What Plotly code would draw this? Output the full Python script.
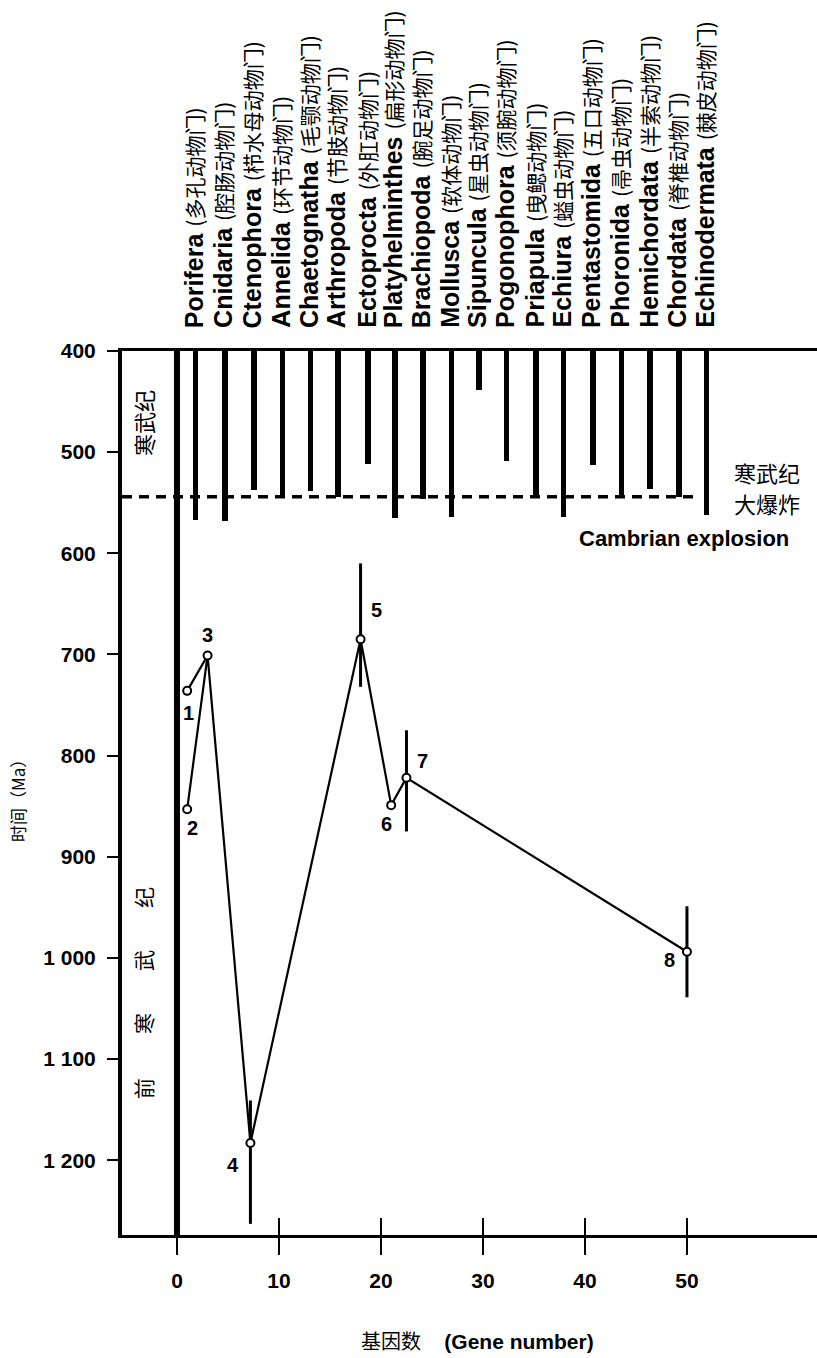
import plotly.graph_objects as go

# ---------------- data ----------------
phyla_en = ["Porifera", "Cnidaria", "Ctenophora", "Annelida", "Chaetognatha", "Arthropoda",
            "Ectoprocta", "Platyhelminthes", "Brachiopoda", "Mollusca", "Sipuncula",
            "Pogonophora", "Priapula", "Echiura", "Pentastomida", "Phoronida",
            "Hemichordata", "Chordata", "Echinodermata"]
phyla_zh = ["多孔动物门", "腔肠动物门", "栉水母动物门", "环节动物门", "毛颚动物门", "节肢动物门",
            "外肛动物门", "扁形动物门", "腕足动物门", "软体动物门", "星虫动物门",
            "须腕动物门", "曳鳃动物门", "螠虫动物门", "五口动物门", "帚虫动物门",
            "半索动物门", "脊椎动物门", "棘皮动物门"]
phyla_x = [1.83, 4.7, 7.55, 10.36, 13.1, 15.8, 18.75, 21.4, 24.1, 26.9, 29.6,
           32.3, 35.2, 37.9, 40.8, 43.6, 46.4, 49.2, 51.9]
phyla_first_ma = [567, 568, 537, 545, 538, 544, 512, 565, 546, 564, 439,
                  509, 544, 564, 513, 544, 536, 544, 562]

point_ids = ["1", "2", "3", "4", "5", "6", "7", "8"]
gene_number = [1, 1, 3, 7.2, 18, 21, 22.5, 50]
age_ma = [736, 853, 701, 1183, 685, 849, 822, 994]
err_older = [0, 0, 0, 80, 47, 0, 53, 45]
err_younger = [0, 0, 0, 42, 75, 0, 47, 45]

cambrian_boundary = 544
time_top = 400
time_bottom = 1274
gene_min, gene_max = -5.39, 62.75
dash_end = 51.0

y_ticks = [400, 500, 600, 700, 800, 900, 1000, 1100, 1200]
y_ticktext = ["400", "500", "600", "700", "800", "900", "1 000", "1 100", "1 200"]
x_ticks = [0, 10, 20, 30, 40, 50]

LAT = "Liberation Sans, Arial, Noto Sans CJK SC, sans-serif"
CJK = "Noto Sans CJK SC, sans-serif"

fig = go.Figure()

# phylum first-appearance bars (hanging from the top)
fig.add_trace(go.Bar(
    x=phyla_x, y=[v - time_top for v in phyla_first_ma], base=time_top,
    width=0.55, marker=dict(color="black", line=dict(width=0)),
    hoverinfo="skip", showlegend=False))

# thick origin line at gene number 0
fig.add_trace(go.Scatter(x=[0, 0], y=[time_top, time_bottom], mode="lines",
                         line=dict(color="black", width=6), hoverinfo="skip",
                         showlegend=False))

# Cambrian explosion dashed line
fig.add_trace(go.Scatter(x=[gene_min, dash_end], y=[cambrian_boundary, cambrian_boundary],
                         mode="lines", line=dict(color="black", width=3.5, dash="10px,7px"),
                         hoverinfo="skip", showlegend=False))

# connector lines: 1-3 and 2-3-4-5-6-7-8
line_x = [gene_number[0], gene_number[2], None, gene_number[1], gene_number[2]] + gene_number[3:]
line_y = [age_ma[0], age_ma[2], None, age_ma[1], age_ma[2]] + age_ma[3:]
fig.add_trace(go.Scatter(x=line_x, y=line_y, mode="lines",
                         line=dict(color="black", width=2.2), hoverinfo="skip",
                         showlegend=False))

# points with error bars
fig.add_trace(go.Scatter(
    x=gene_number, y=age_ma, mode="markers",
    marker=dict(symbol="circle", size=8, color="white", line=dict(color="black", width=2)),
    error_y=dict(type="data", symmetric=False, array=err_older, arrayminus=err_younger,
                 color="black", thickness=3, width=0),
    hoverinfo="skip", showlegend=False))

# invisible trace for the inside-tick axis
fig.add_trace(go.Scatter(x=[gene_min], y=[time_top], xaxis="x2", mode="markers",
                         marker=dict(opacity=0), hoverinfo="skip", showlegend=False))

annotations = []
# phylum labels
for xv, en, zh in zip(phyla_x, phyla_en, phyla_zh):
    annotations.append(dict(
        x=xv, y=1, xref="x", yref="paper", xanchor="center", yanchor="bottom",
        xshift=-2, yshift=21, textangle=-90, showarrow=False,
        text=f"<b>{en}</b> <span style='font-family:{CJK};font-size:21px'>({zh})</span>",
        font=dict(family=LAT, size=25, color="black")))

# point labels
label_offsets = [(1.6, -22.6), (5.7, -19.3), (0, 20), (-17.7, -21.7), (15.7, 29),
                 (-4.3, -19), (15.6, 17.3), (-17.4, -8.3)]
for pid, xv, yv, (dx, dy) in zip(point_ids, gene_number, age_ma, label_offsets):
    annotations.append(dict(x=xv, y=yv, xref="x", yref="y", text=f"<b>{pid}</b>",
                            showarrow=False, xshift=dx, yshift=dy,
                            xanchor="center", yanchor="middle",
                            font=dict(family=LAT, size=20, color="black")))


def txt(x, y, text, size, family, angle=0):
    return dict(x=x, y=y, xref="paper", yref="paper", text=text, textangle=angle,
                showarrow=False, xanchor="center", yanchor="middle",
                font=dict(family=family, size=size, color="black"))


# period labels in the left box
annotations.append(txt(0.0302, 0.9186, "寒武纪", 22, CJK, -90))
for ch, yp in zip(["前", "寒", "武", "纪"], [0.1663, 0.2398, 0.3111, 0.3824]):
    annotations.append(txt(0.0302, yp, ch, 21, CJK, -90))

# Cambrian explosion text
annotations.append(txt(0.9276, 0.8635, "寒武纪", 22, CJK))
annotations.append(txt(0.9276, 0.828, "大爆炸", 22, CJK))
annotations.append(txt(0.8086, 0.788, "<b>Cambrian explosion</b>", 22, LAT))

# axis titles
annotations.append(txt(-0.1496, 0.4955, "时间（Ma）", 17, CJK, -90))
annotations.append(txt(0.512, -0.1188,
                       "<span style='font-family:" + CJK + ";font-size:20px'>基因数</span>"
                       "&nbsp;&nbsp;&nbsp;&nbsp;<b>(Gene number)</b>", 21, LAT))

fig.update_layout(
    width=817, height=1358,
    margin=dict(l=122, r=0, t=351, b=123),
    paper_bgcolor="white", plot_bgcolor="white",
    showlegend=False, bargap=0,
    annotations=annotations,
    xaxis=dict(range=[gene_min, gene_max], showgrid=False, zeroline=False,
               showline=True, linecolor="black", linewidth=3, mirror=True,
               ticks="outside", ticklen=17, tickwidth=2, tickcolor="black",
               tickvals=x_ticks, ticktext=[str(t) for t in x_ticks],
               ticklabelstandoff=8,
               tickfont=dict(family=LAT, size=21, color="black", weight="bold")),
    xaxis2=dict(range=[gene_min, gene_max], overlaying="x", anchor="y", side="bottom",
                showgrid=False, zeroline=False, showline=False,
                ticks="inside", ticklen=17, tickwidth=2, tickcolor="black",
                tickvals=x_ticks[1:], showticklabels=False),
    yaxis=dict(range=[time_bottom, time_top], showgrid=False, zeroline=False,
               showline=True, linecolor="black", linewidth=4,
               ticks="outside", ticklen=11, tickwidth=2, tickcolor="black",
               tickvals=y_ticks, ticktext=y_ticktext, ticklabelstandoff=7,
               tickfont=dict(family=LAT, size=21, color="black", weight="bold")),
)

fig.write_html("out.html", config={"displayModeBar": False},
               post_script="document.body.style.margin='0';document.body.style.overflow='hidden';")
